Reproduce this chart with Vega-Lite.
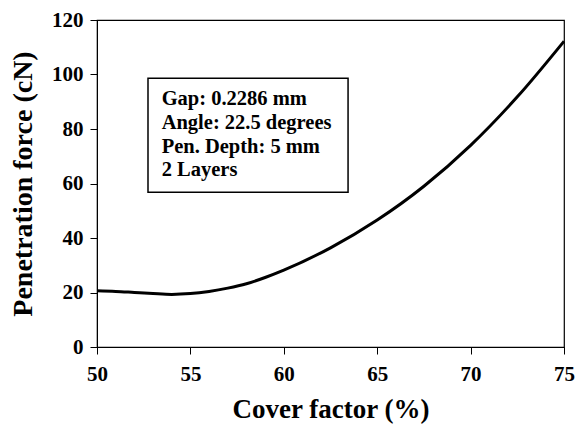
{
  "$schema": "https://vega.github.io/schema/vega-lite/v6.json",
  "autosize": {"type": "none"},
  "width": 467,
  "height": 327,
  "padding": {"left": 97, "top": 20, "right": 14, "bottom": 79},
  "background": "white",
  "config": {
    "view": {"stroke": "black", "strokeWidth": 1.2},
    "axis": {
      "grid": false,
      "domainColor": "black",
      "tickColor": "black",
      "labelFont": "Liberation Serif",
      "titleFont": "Liberation Serif",
      "labelFontWeight": "bold",
      "titleFontWeight": "bold",
      "labelFontSize": 21,
      "labelColor": "black",
      "titleColor": "black",
      "labelFlush": false,
      "tickSize": 7
    }
  },
  "datasets": {
    "curve": [
      {"cf": 50, "force": 20.6},
      {"cf": 51, "force": 20.4},
      {"cf": 52, "force": 20.0},
      {"cf": 53, "force": 19.6},
      {"cf": 54, "force": 19.3},
      {"cf": 55, "force": 19.6},
      {"cf": 56, "force": 20.4},
      {"cf": 57, "force": 21.6},
      {"cf": 58, "force": 23.2},
      {"cf": 59, "force": 25.5},
      {"cf": 60, "force": 28.2},
      {"cf": 62.5, "force": 36.4},
      {"cf": 65, "force": 46.6},
      {"cf": 67.5, "force": 59.0},
      {"cf": 70, "force": 74.0},
      {"cf": 72.5, "force": 91.8},
      {"cf": 75, "force": 112.2}
    ],
    "box": [{"x1": 52.73, "x2": 63.44, "y1": 56.8, "y2": 98.6}],
    "notes": [
      {"x": 53.46, "y": 90.9, "t": "Gap: 0.2286 mm"},
      {"x": 53.46, "y": 82.1, "t": "Angle: 22.5 degrees"},
      {"x": 53.46, "y": 73.3, "t": "Pen. Depth: 5 mm"},
      {"x": 53.46, "y": 64.9, "t": "2 Layers"}
    ]
  },
  "layer": [
    {
      "data": {"name": "curve"},
      "mark": {"type": "line", "interpolate": "monotone", "color": "black", "strokeWidth": 3},
      "encoding": {
        "x": {"field": "cf", "type": "quantitative", "title": "Cover factor (%)",
              "scale": {"domain": [50, 75], "nice": false},
              "axis": {"values": [50, 55, 60, 65, 70, 75], "labelPadding": 9,
                       "titleFontSize": 27, "titlePadding": 12}},
        "y": {"field": "force", "type": "quantitative", "title": "Penetration force (cN)",
              "scale": {"domain": [0, 120], "nice": false},
              "axis": {"values": [0, 20, 40, 60, 80, 100, 120], "labelPadding": 7,
                       "titleFontSize": 28, "titlePadding": 14}}
      }
    },
    {
      "data": {"name": "box"},
      "mark": {"type": "rect", "fill": "white", "stroke": "black", "strokeWidth": 1.5},
      "encoding": {
        "x": {"field": "x1", "type": "quantitative"},
        "x2": {"field": "x2"},
        "y": {"field": "y1", "type": "quantitative"},
        "y2": {"field": "y2"}
      }
    },
    {
      "data": {"name": "notes"},
      "mark": {"type": "text", "align": "left", "baseline": "middle", "font": "Liberation Serif", "fontWeight": "bold", "fontSize": 20.5, "color": "black"},
      "encoding": {
        "x": {"field": "x", "type": "quantitative"},
        "y": {"field": "y", "type": "quantitative"},
        "text": {"field": "t"}
      }
    }
  ]
}
